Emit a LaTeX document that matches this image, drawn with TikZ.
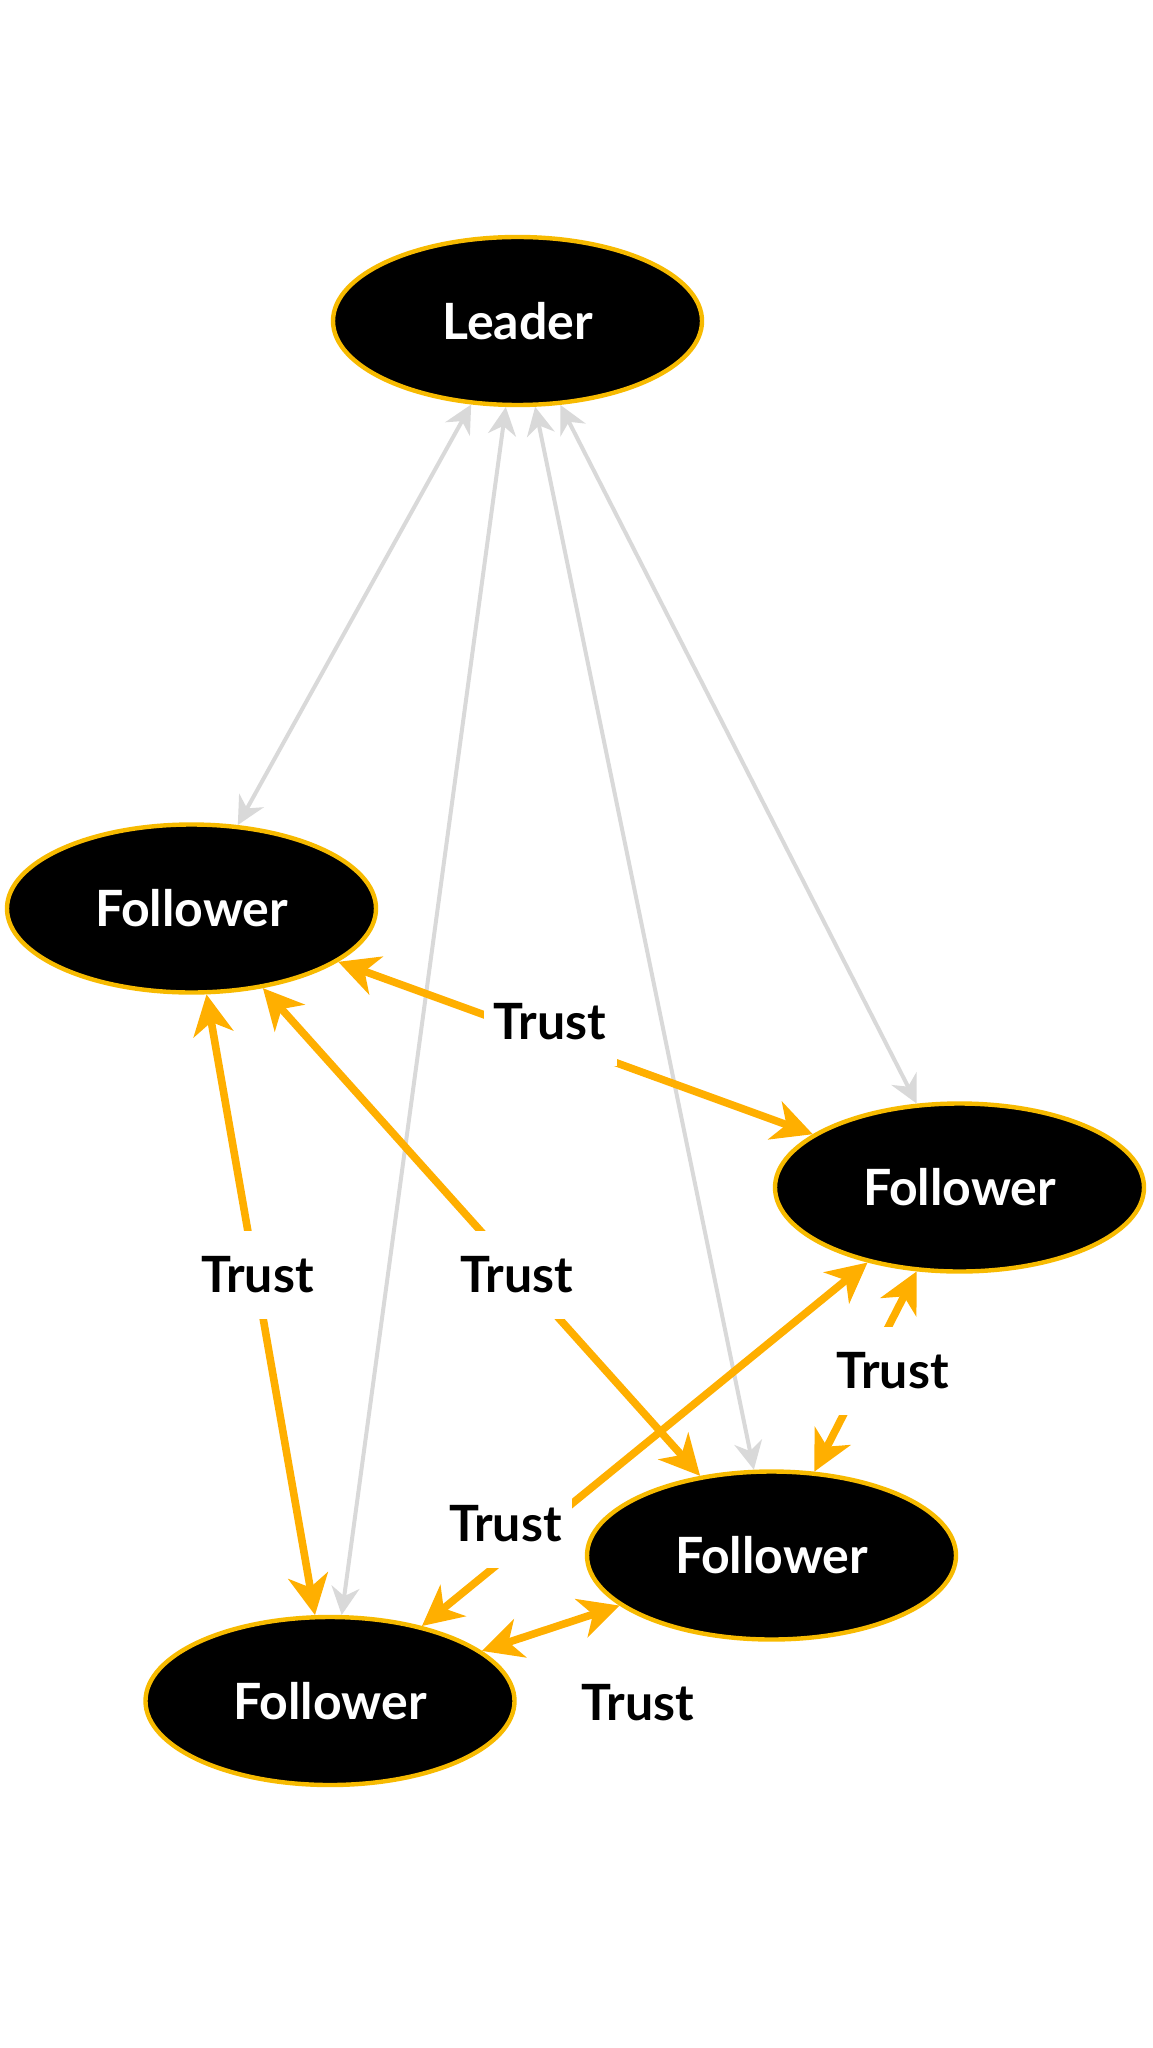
\documentclass[tikz,border=0pt]{standalone}
\usepackage{fontspec}
\setmainfont{Lato}
\usepackage{tikz}
\usetikzlibrary{arrows.meta, shapes.geometric}

\definecolor{ringgold}{HTML}{F7BA00}
\definecolor{trustorange}{HTML}{FFAF00}
\definecolor{linkgray}{HTML}{D9D9D9}

\begin{document}
\begin{tikzpicture}[
    x=0.5pt, y=-0.5pt,
    person/.style={ellipse, draw=ringgold, line width=2.2pt, fill=black, text=white, minimum width=184.5pt, minimum height=84pt, font=\fontsize{25}{30}\selectfont\bfseries},
    link/.style={<->, >={Stealth[length=14pt, width=14pt, inset=4.5pt]}, line width=2pt, draw=linkgray},
    trust/.style={<->, >={Stealth[length=20pt, width=20pt, inset=6pt]}, line width=3.8pt, draw=trustorange},
    tlabel/.style={fill=white, inner sep=0pt, minimum width=66.5pt, minimum height=44pt, font=\fontsize{25}{30}\selectfont\bfseries}
]
    \useasboundingbox (0,0) rectangle (1152,2048);

    % Leader
    \node[person] (leader) at (517.5,321) {Leader};

    % Followers
    \node[person] (fa) at (191.5,908.5) {Follower};
    \node[person] (fb) at (959.5,1187.5) {Follower};
    \node[person] (fc) at (771.5,1555.5) {Follower};
    \node[person] (fd) at (330,1701) {Follower};

    % Leader links
    \foreach \f in {fa,fb,fc,fd}
        \draw[link] (leader) -- (\f);

    % Trust arrows
    \draw[trust] (fa) -- (fb);
    \draw[trust] (fa) -- (fd);
    \draw[trust] (fa) -- (fc);
    \draw[trust] (fb) -- (fc);
    \draw[trust] (fb) -- (fd);
    \draw[trust] (fc) -- (fd);

    % Labels
    \node[tlabel] (tab) at (550,1022) {Trust};
    \node[tlabel] (tad) at (257.5,1275) {Trust};
    \node[tlabel] (tac) at (517,1275) {Trust};
    \node[tlabel] (tbc) at (892.5,1371) {Trust};
    \node[tlabel] (tbd) at (505.5,1524) {Trust};
    \node[tlabel] (tcd) at (638,1703) {Trust};

\end{tikzpicture}
\end{document}
